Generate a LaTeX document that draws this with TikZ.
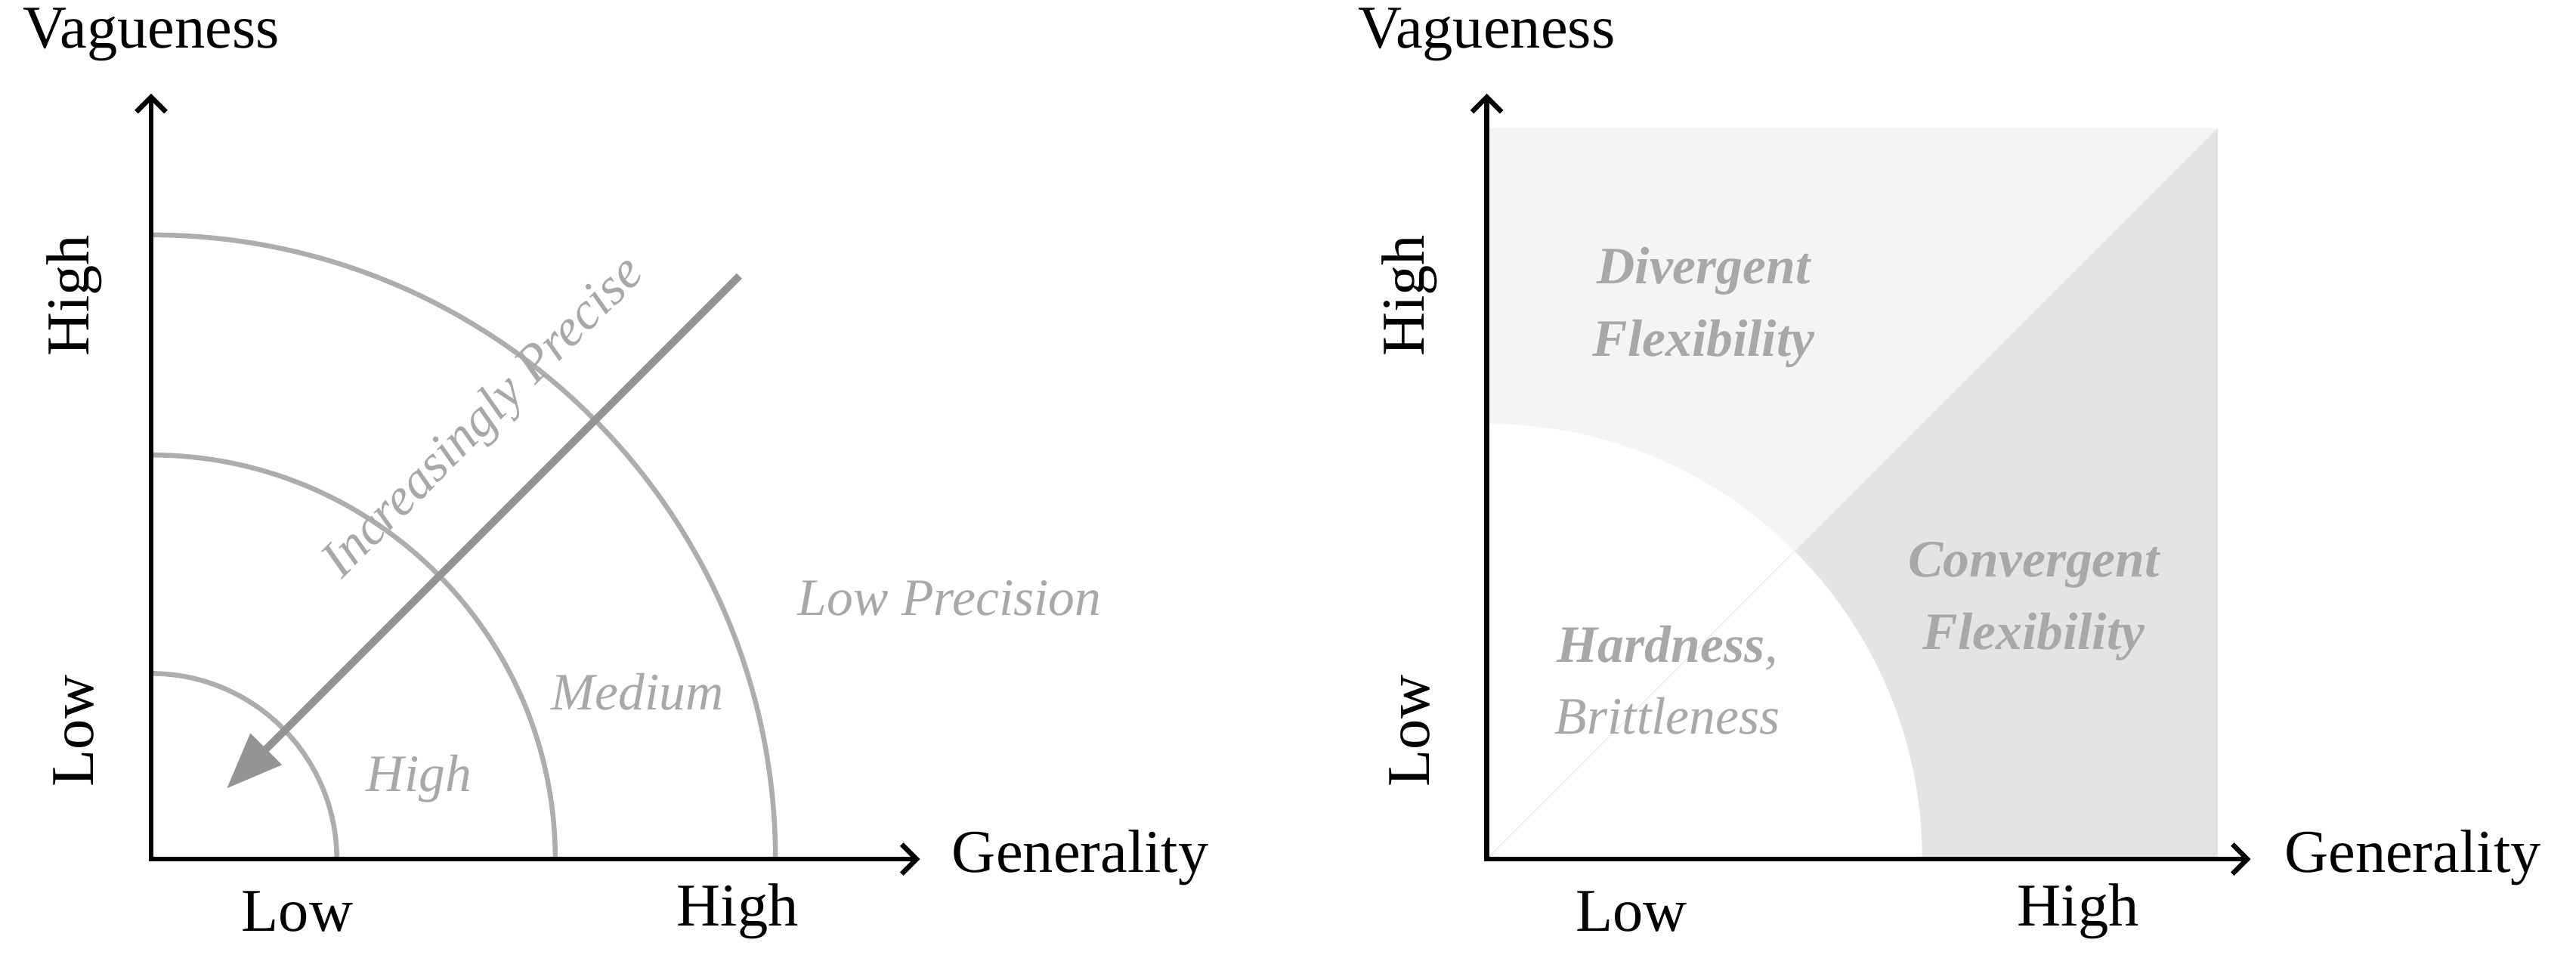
\documentclass[tikz,border=0pt]{standalone}
\usepackage{fontspec}
\setmainfont{Liberation Serif}
\usetikzlibrary{arrows.meta}
\definecolor{arcg}{gray}{0.68}
\definecolor{txtg}{gray}{0.66}
\definecolor{arrg}{gray}{0.58}
\definecolor{lightf}{gray}{0.955}
\definecolor{darkf}{gray}{0.895}
\tikzset{
  axis/.style={line width=3pt,-{Straight Barb[length=9pt,width=18pt,line width=3pt]}},
  ax/.style={font=\fontsize{37}{42}\selectfont},
  arcline/.style={arcg,line width=3pt},
  glab/.style={txtg,font=\fontsize{32}{36}\selectfont\itshape},
  blab/.style={txtg,font=\fontsize{32}{44}\selectfont\bfseries\itshape,align=center}
}
\begin{document}
\begin{tikzpicture}[x=1pt,y=-1pt]
\useasboundingbox (0,0) rectangle (1568,581);
% left panel
\draw[arcline] (205,523) arc[start angle=0,end angle=-90,radius=113];
\draw[arcline] (338,523) arc[start angle=0,end angle=-90,radius=246];
\draw[arcline] (472,523) arc[start angle=0,end angle=-90,radius=380];
\coordinate (as) at (450,168);
\coordinate (ae) at (138,480);
\draw[arrg,line width=4.5pt,-{Triangle[length=34pt,width=26pt]}] (as) -- (ae);
\node[txtg,rotate=45,font=\fontsize{32}{36}\selectfont\itshape] (ip) at (295,255) {Increasingly Precise};
\node[glab] (h) at (255,474) {High};
\node[glab] (m) at (388,421) {Medium};
\node[glab] (lp) at (578,364) {Low Precision};
\draw[axis] (92,524.5) -- (92,57) coordinate (yt1);
\draw[axis] (90.5,523) -- (560,523) coordinate (xt1);
\node[ax] (v1) at (92,21) {Vagueness};
\node[ax,anchor=west] (g1) at (576,522) {Generality};
\node[ax] (xl1) at (181,555) {Low};
\node[ax] (xh1) at (449,555) {High};
\node[ax,rotate=90] (yh1) at (45,180) {High};
\node[ax,rotate=90] (yl1) at (45,445) {Low};
% right panel
\fill[lightf] (905,78) -- (1350,78) -- (905,523) -- cycle;
\fill[darkf] (1350,78) -- (1350,523) -- (905,523) -- cycle;
\fill[white] (905,523) -- (1170,523) arc[start angle=0,end angle=-90,radius=265] -- cycle;
\draw[white!93!black,line width=0.6pt] (905,523) -- ++(-45:265);
\node[blab] (df) at (1037,187) {Divergent\\Flexibility};
\node[blab] (cf) at (1238,366) {Convergent\\Flexibility};
\node[txtg,align=center,font=\fontsize{32}{44}\selectfont\itshape] (hb) at (1015,414) {\textbf{Hardness},\\Brittleness};
\draw[axis] (905,524.5) -- (905,57) coordinate (yt2);
\draw[axis] (903.5,523) -- (1370,523) coordinate (xt2);
\node[ax] (v2) at (905,21) {Vagueness};
\node[ax,anchor=west] (g2) at (1387,522) {Generality};
\node[ax] (xl2) at (993,555) {Low};
\node[ax] (xh2) at (1265,555) {High};
\node[ax,rotate=90] (yh2) at (858,180) {High};
\node[ax,rotate=90] (yl2) at (858,445) {Low};
\end{tikzpicture}
\end{document}
